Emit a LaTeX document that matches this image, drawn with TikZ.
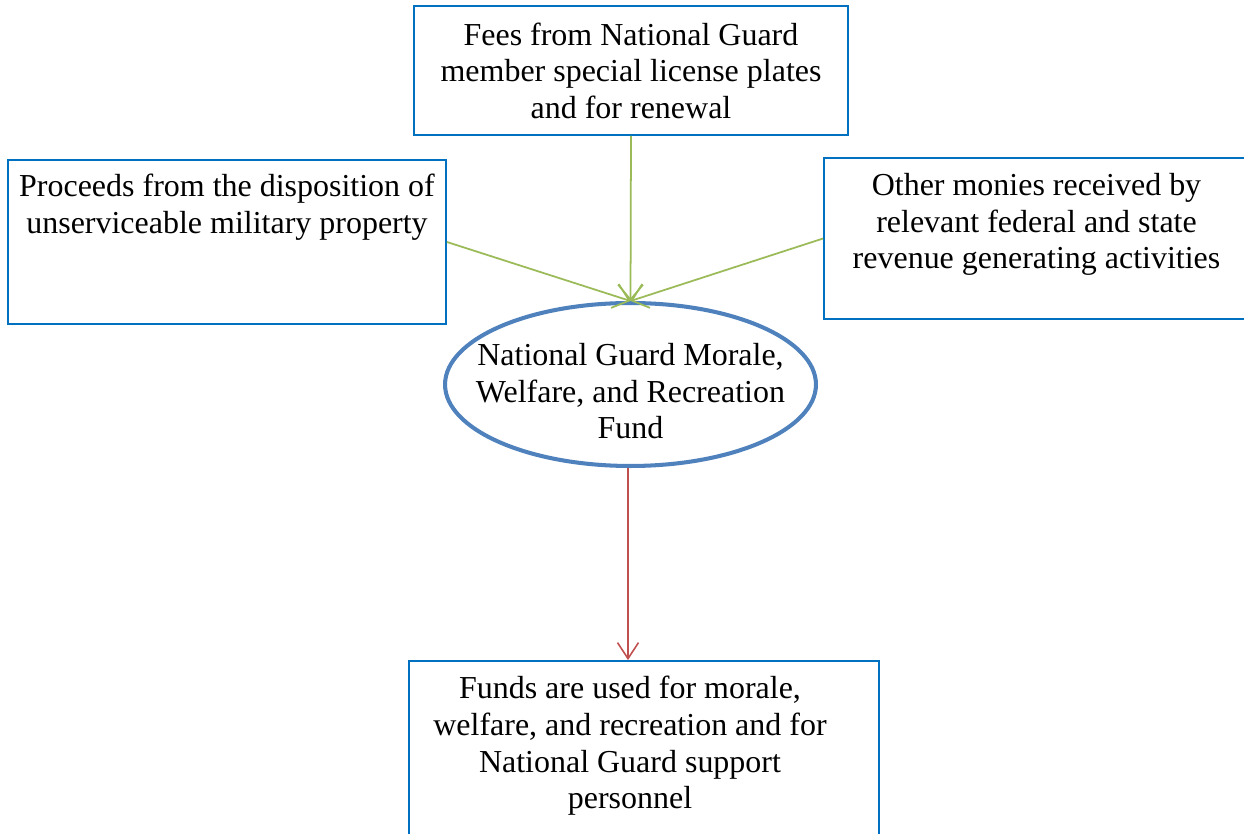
\documentclass[tikz,border=0pt]{standalone}
\usepackage{fontspec}
\setmainfont{Liberation Serif}
\usetikzlibrary{positioning,shapes.geometric,arrows.meta}
\definecolor{boxblue}{RGB}{0,112,192}
\definecolor{ringblue}{RGB}{79,129,189}
\definecolor{feedgreen}{RGB}{155,187,89}
\definecolor{outred}{RGB}{192,80,77}
\begin{document}
\begin{tikzpicture}[x=0.02cm, y=-0.02cm,
  every node/.style={font=\fontsize{18.2}{20.8}\selectfont, align=center},
  srcbox/.style={draw=boxblue, line width=1.1pt, rectangle, inner sep=0pt},
  txt/.style={inner sep=0pt, anchor=north},
  feed/.style={draw=feedgreen, line width=1pt, -{Straight Barb[length=0.3cm, width=0.5cm]}},
  useout/.style={draw=outred, line width=0.9pt, -{Straight Barb[length=0.32cm, width=0.42cm]}}]
  \useasboundingbox (0,0) rectangle (1244,834);
  % source boxes
  \node[srcbox, minimum width=8.68cm, minimum height=2.58cm] (fees) at (631,70.5)
    {Fees from National Guard\\member special license plates\\and for renewal};
  \node[srcbox, minimum width=8.76cm, minimum height=3.28cm] (procbox) at (227,242) {};
  \node[txt, below=0.30cm of procbox.north] (proctxt)
    {Proceeds from the disposition of\\unserviceable military property};
  \node[srcbox, minimum width=8.5cm, minimum height=3.22cm] (otherbox) at (1036.5,238.5) {};
  \node[txt, below=0.32cm of otherbox.north] (othertxt)
    {Other monies received by\\relevant federal and state\\revenue generating activities};
  % the fund
  \node[ellipse, draw=ringblue, line width=2.3pt, inner sep=0pt,
    minimum width=7.42cm, minimum height=3.26cm,
    label={[align=center, yshift=-0.14cm]center:National Guard Morale,\\Welfare, and Recreation\\Fund}]
    (fund) at (630.5,384.5) {};
  % use of the money
  \node[srcbox, minimum width=9.4cm, minimum height=4cm] (usebox) at (644,761) {};
  \node[txt, below=0.32cm of usebox.north, xshift=-0.28cm] (usetxt)
    {Funds are used for morale,\\welfare, and recreation and for\\National Guard support\\personnel};
  % connectors
  \draw[feed] (fees.south) -- (fund.north);
  \draw[feed] (procbox.east) -- (fund.north);
  \draw[feed] (otherbox.west) -- (fund.north);
  \draw[useout] ([xshift=-0.05cm]fund.south) -- ([xshift=-0.05cm]fund.south |- usebox.north);
\end{tikzpicture}
\end{document}
